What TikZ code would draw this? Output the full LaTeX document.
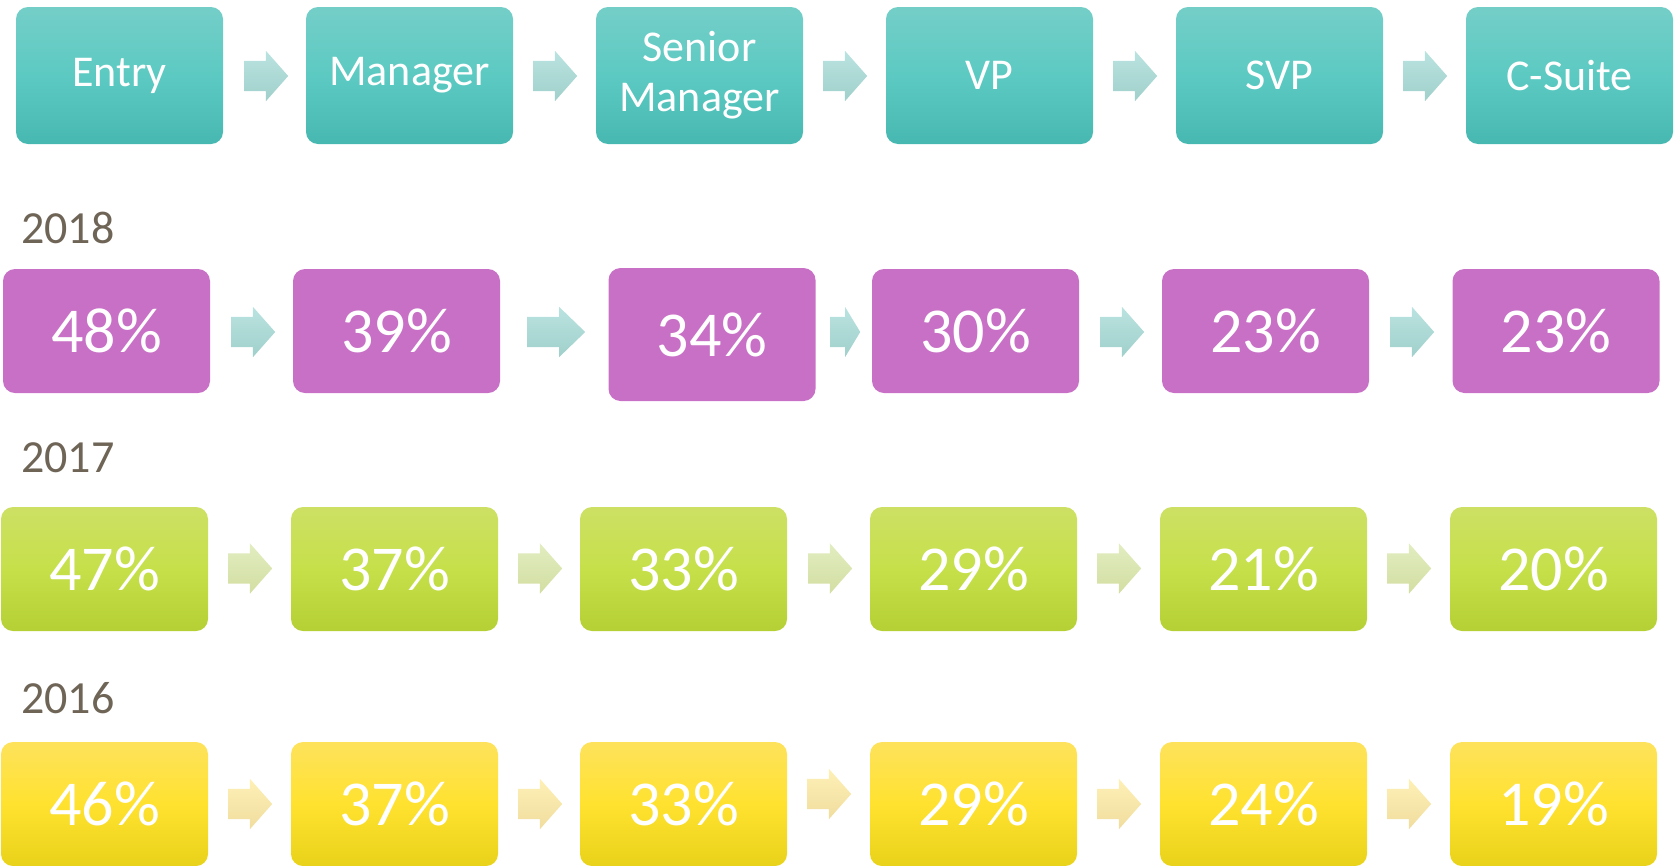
\documentclass[tikz,border=0pt]{standalone}
\usepackage{fontspec}
\setmainfont{Carlito}
\usetikzlibrary{shapes.arrows}
\definecolor{tealTop}{HTML}{74CEC8}
\definecolor{tealMid}{HTML}{5CCAC2}
\definecolor{tealBot}{HTML}{47B8B1}
\definecolor{plum}{HTML}{C870C6}
\definecolor{limeTop}{HTML}{CDE064}
\definecolor{limeMid}{HTML}{C6E04A}
\definecolor{limeBot}{HTML}{B5D034}
\definecolor{goldTop}{HTML}{FEE25C}
\definecolor{goldMid}{HTML}{FFE22F}
\definecolor{goldBot}{HTML}{E9D21A}
\definecolor{tealArrTop}{HTML}{BAE3E0}
\definecolor{tealArrBot}{HTML}{A0D0CB}
\definecolor{limeArrTop}{HTML}{E2EDC1}
\definecolor{limeArrBot}{HTML}{D2DEA1}
\definecolor{goldArrTop}{HTML}{FEF0B6}
\definecolor{goldArrBot}{HTML}{F0DD9E}
\definecolor{yearGrey}{HTML}{6F6557}
\tikzset{
  box node/.style={
    rounded corners=12pt,
    minimum width=207pt,
    minimum height=124pt,
    inner sep=0pt,
    text=white,
    align=center,
    font=\fontsize{64}{70}\selectfont,
  },
  level node/.style={
    box node,
    minimum height=137pt,
    top color=tealTop, bottom color=tealBot, middle color=tealMid,
    font=\fontsize{44}{50}\selectfont,
  },
  y18 node/.style={box node, fill=plum},
  y17 node/.style={box node, top color=limeTop, bottom color=limeBot, middle color=limeMid},
  y16 node/.style={box node, top color=goldTop, bottom color=goldBot, middle color=goldMid},
  step arrow/.style={
    single arrow,
    anchor=tail,
    inner sep=0pt,
    text height=15pt, text depth=15pt,
    minimum height=44pt,
    minimum width=50pt,
    single arrow head extend=10pt,
    single arrow tip angle=97,
  },
  teal arrow/.style={step arrow, top color=tealArrTop, bottom color=tealArrBot},
  lime arrow/.style={step arrow, top color=limeArrTop, bottom color=limeArrBot},
  gold arrow/.style={step arrow, top color=goldArrTop, bottom color=goldArrBot},
  year label/.style={
    anchor=base west,
    inner sep=0pt,
    text=yearGrey,
    font=\fontsize{46}{50}\selectfont,
  },
}
\begin{document}
\begin{tikzpicture}[x=1pt, y=-1pt]
        \useasboundingbox (0,0) rectangle (1675,865);

        \node[level node] (l1) at ( 119.5,75.5) {Entry};
        \node[level node] (l2) at ( 409.5,75.5) {Manager};
        \node[level node] (l3) at ( 699.5,75.5) {Senior\\Manager};
        \node[level node] (l4) at ( 989.5,75.5) {VP};
        \node[level node] (l5) at (1279.5,75.5) {SVP};
        \node[level node] (l6) at (1569.5,75.5) {C-Suite};
        \node[teal arrow] (al1) at ( 244,76) {};
        \node[teal arrow] (al2) at ( 533,76) {};
        \node[teal arrow] (al3) at ( 823,76) {};
        \node[teal arrow] (al4) at (1113,76) {};
        \node[teal arrow] (al5) at (1403,76) {};

        \node[year label] (Y18) at (21,243) {2018};
        \node[y18 node] (p1) at ( 106.5,331) {48\%};
        \node[y18 node] (p2) at ( 396.5,331) {39\%};
        \node[y18 node, minimum height=133pt] (p3) at ( 712,334.5) {34\%};
        \node[y18 node] (p4) at ( 975.5,331) {30\%};
        \node[y18 node] (p5) at (1265.5,331) {23\%};
        \node[y18 node] (p6) at (1556,331) {23\%};
        \node[teal arrow] (ap1) at ( 231,332) {};
        \node[teal arrow, minimum height=58pt, single arrow tip angle=88] (ap2) at ( 527,332) {};
        \node[teal arrow, minimum height=30pt, single arrow tip angle=118] (ap3) at ( 830,332) {};
        \node[teal arrow] (ap4) at (1100,332) {};
        \node[teal arrow] (ap5) at (1390,332) {};

        \node[year label] (Y17) at (21,472) {2017};
        \node[y17 node] (q1) at ( 104.5,569) {47\%};
        \node[y17 node] (q2) at ( 394.5,569) {37\%};
        \node[y17 node] (q3) at ( 683.5,569) {33\%};
        \node[y17 node] (q4) at ( 973.5,569) {29\%};
        \node[y17 node] (q5) at (1263.5,569) {21\%};
        \node[y17 node] (q6) at (1553.5,569) {20\%};
        \node[lime arrow] (aq1) at ( 228,568.5) {};
        \node[lime arrow] (aq2) at ( 518,568.5) {};
        \node[lime arrow] (aq3) at ( 808,568.5) {};
        \node[lime arrow] (aq4) at (1097,568.5) {};
        \node[lime arrow] (aq5) at (1387,568.5) {};

        \node[year label] (Y16) at (21,713) {2016};
        \node[y16 node] (r1) at ( 104.5,804) {46\%};
        \node[y16 node] (r2) at ( 394.5,804) {37\%};
        \node[y16 node] (r3) at ( 683.5,804) {33\%};
        \node[y16 node] (r4) at ( 973.5,804) {29\%};
        \node[y16 node] (r5) at (1263.5,804) {24\%};
        \node[y16 node] (r6) at (1553.5,804) {19\%};
        \node[gold arrow] (ar1) at ( 228,804) {};
        \node[gold arrow] (ar2) at ( 518,804) {};
        \node[gold arrow] (ar3) at ( 807,794) {};
        \node[gold arrow] (ar4) at (1097,804) {};
        \node[gold arrow] (ar5) at (1387,804) {};
\end{tikzpicture}
\end{document}
